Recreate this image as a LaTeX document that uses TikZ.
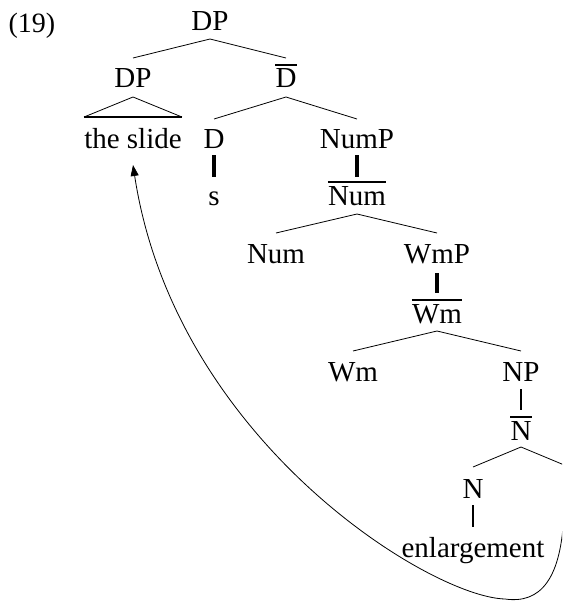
\documentclass[tikz,border=0pt]{standalone}
\usepackage{fontspec}
\setmainfont{Liberation Serif}
\usetikzlibrary{arrows.meta}
\begin{document}
\begin{tikzpicture}[x=1pt,y=-1pt,
  lab/.style={inner sep=0pt, anchor=base, font=\fontsize{29}{34}\selectfont},
  branch/.style={line width=0.8pt},
  unary/.style={line width=3.1pt},
  thinunary/.style={line width=1.6pt},
  barline/.style={line width=2.8pt},
  move/.style={line width=0.8pt, -{Triangle[length=11pt,width=8pt]}}]
\clip (0,0) rectangle (562,602);
\node[lab, font=\fontsize{28}{32}\selectfont] (ex) at (32,33) {(19)};
\node[lab] (dp) at (210,31) {DP};
\node[lab] (dpl) at (133,88) {DP};
\node[lab] (dbar) at (286,88) {D};
\node[lab] (slide) at (133,148) {the slide};
\node[lab] (d) at (214,148) {D};
\node[lab] (s) at (214,205) {s};
\node[lab] (nump) at (357,148) {NumP};
\node[lab] (numbar) at (357,205) {Num};
\node[lab] (num) at (276,263) {Num};
\node[lab] (wmp) at (437,263) {WmP};
\node[lab] (wmbar) at (437,323) {Wm};
\node[lab] (wm) at (353,381) {Wm};
\node[lab] (np) at (521,381) {NP};
\node[lab] (nbar) at (521,440) {N};
\node[lab] (n) at (473,498) {N};
\node[lab] (enl) at (473,557) {enlargement};
\coordinate (nr) at (569,498);
\coordinate (t) at (564,510);
\coordinate (bend) at (505,599);
% bars over X-bar labels
\foreach \b in {dbar,numbar,wmbar,nbar}
  \draw[barline] ([yshift=23pt]\b.base west) -- ([yshift=23pt]\b.base east);
% binary branches
\draw[branch] ([yshift=-8pt]dp.base) -- ([yshift=30pt]dpl.base);
\draw[branch] ([yshift=-8pt]dp.base) -- ([yshift=30pt]dbar.base);
\draw[branch] ([yshift=-9pt]dbar.base) -- ([yshift=29pt]d.base);
\draw[branch] ([yshift=-9pt]dbar.base) -- ([yshift=29pt]nump.base);
\draw[branch] ([yshift=-9pt]numbar.base) -- ([yshift=30pt]num.base);
\draw[branch] ([yshift=-9pt]numbar.base) -- ([yshift=30pt]wmp.base);
\draw[branch] ([yshift=-8pt]wmbar.base) -- ([yshift=30pt]wm.base);
\draw[branch] ([yshift=-8pt]wmbar.base) -- ([yshift=30pt]np.base);
\draw[branch] ([yshift=-7pt]nbar.base) -- ([yshift=31pt]n.base);
\draw[branch] ([yshift=-7pt]nbar.base) -- ([yshift=31pt]nr);
% triangle
\draw[branch] ([yshift=31pt]slide.base west) -- ([yshift=-9pt]dpl.base) -- ([yshift=31pt]slide.base east);
\draw[line width=2.2pt] ([yshift=31pt]slide.base west) -- ([yshift=31pt]slide.base east);
% unary branches
\draw[unary] ([yshift=-7pt]d.base) -- ([yshift=28pt]s.base);
\draw[unary] ([yshift=-7pt]nump.base) -- ([yshift=28pt]numbar.base);
\draw[unary] ([yshift=-10pt]wmp.base) -- ([yshift=30pt]wmbar.base);
\draw[thinunary] ([yshift=-8pt]np.base) -- ([yshift=30pt]nbar.base);
\draw[thinunary] ([yshift=-7pt]n.base) -- ([yshift=30pt]enl.base);
% movement arrow
\draw[move] (t) .. controls (562,580) and (540,604) .. (bend)
  .. controls (430,597) and (175,440) .. ([yshift=-17pt]slide.base);
\end{tikzpicture}
\end{document}
